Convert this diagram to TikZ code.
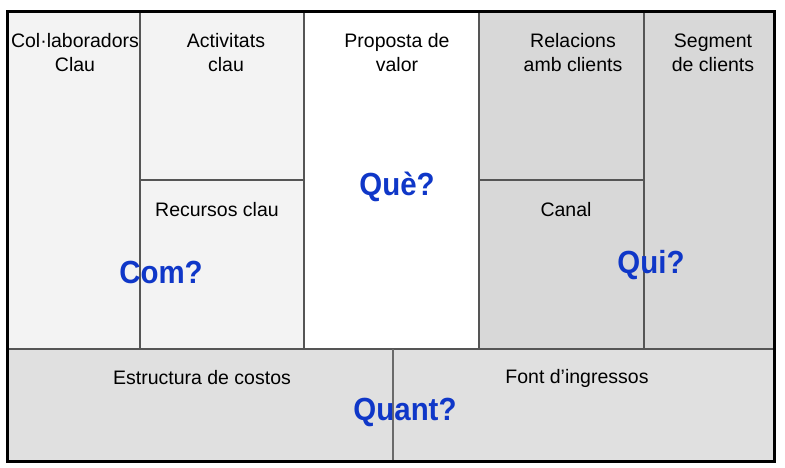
\documentclass[tikz,border=0pt]{standalone}
\usepackage{fontspec}
\setmainfont{Liberation Sans}
\usepackage{xcolor}
\usetikzlibrary{calc}

\definecolor{cellLight}{HTML}{F3F3F3}
\definecolor{cellDark}{HTML}{D8D8D8}
\definecolor{cellBottom}{HTML}{E0E0E0}
\definecolor{gridLine}{HTML}{555555}
\definecolor{splitLine}{HTML}{6A6A6A}
\definecolor{askBlue}{RGB}{15,55,200}

\tikzset{
  blocktext/.style={align=center, font=\fontsize{19.5}{24}\selectfont},
  question/.style={text=askBlue, xscale=0.92,
    font=\fontsize{32}{36}\bfseries\selectfont}
}

\begin{document}
\begin{tikzpicture}[x=1pt, y=-1pt]
  \useasboundingbox (0,0) rectangle (785,468);

  % Fill the blocks
  \fill[cellLight] (7,12) rectangle (304,349);
  \fill[white] (304,12) rectangle (479,349);
  \fill[cellDark] (479,12) rectangle (775,349);
  \fill[cellBottom] (7,349) rectangle (775,461);

  % Inner grid lines
  \foreach \x in {140,304,479,644} {
    \draw[gridLine, line width=1.3pt] (\x,12) -- (\x,349);
  }
  \draw[gridLine, line width=1.3pt] (140,180) -- (304,180);
  \draw[gridLine, line width=1.3pt] (479,180) -- (644,180);
  \draw[gridLine, line width=1.5pt] (7,349) -- (775,349);
  \draw[splitLine, line width=2.8pt] (393,349) -- (393,461);

  % Outer frame
  \draw[black, line width=3pt] (7.5,12) rectangle (774.5,461);

  % Block titles
  \node[blocktext] (partners) at (75,53) {Col·laboradors\\Clau};
  \node[blocktext] (activities) at (226,53) {Activitats\\clau};
  \node[blocktext] (proposal) at (397,53) {Proposta de\\valor};
  \node[blocktext] (relations) at (573,53) {Relacions\\amb clients};
  \node[blocktext] (segment) at (713,53) {Segment\\de clients};
  \node[blocktext] (resources) at (217,210) {Recursos clau};
  \node[blocktext] (channel) at (566,210) {Canal};
  \node[blocktext] (costs) at (202,378) {Estructura de costos};
  \node[blocktext] (revenue) at (577,378) {Font d’ingressos};

  % Questions
  \node[question] (what) at (397,187) {Què?};
  \node[question] (how) at (161,272) {Com?};
  \node[question] (who) at (651,265) {Qui?};
  \node[question] (howmuch) at (405,412) {Quant?};
\end{tikzpicture}
\end{document}
